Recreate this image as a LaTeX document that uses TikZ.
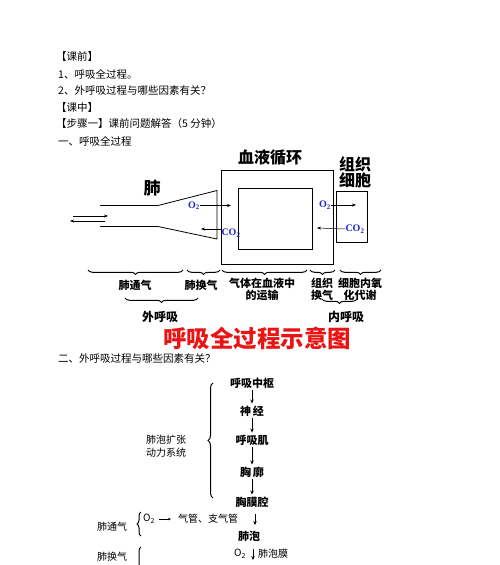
\documentclass[tikz,border=0pt]{standalone}
\usepackage{fontspec}
\setmainfont{Noto Sans CJK SC}
\newfontfamily\lserif{Liberation Serif}
\usetikzlibrary{decorations.pathreplacing,arrows.meta}
\definecolor{gasblue}{RGB}{30,40,200}
\definecolor{titlered}{RGB}{235,20,20}
\begin{document}
\begin{tikzpicture}[x=1pt,y=-1pt,
  body/.style={anchor=west,inner sep=0pt,font=\fontsize{10.5}{12}\selectfont},
  big/.style={inner sep=0pt,font=\fontsize{16}{18}\selectfont\bfseries},
  lbl/.style={inner sep=0pt,align=center,font=\fontsize{11}{11.5}\selectfont\bfseries},
  gas/.style={inner sep=0pt,text=gasblue,font=\lserif\bfseries\fontsize{10}{11}\selectfont},
  arr/.style={-{Stealth[length=4pt,width=3pt]},line width=0.5pt},
  brc/.style={decorate,decoration={brace,amplitude=4.5pt},line width=1pt},
  kai/.style={inner sep=0pt,font=\fontsize{11}{12}\selectfont\bfseries},
  kais/.style={inner sep=0pt,align=center,font=\fontsize{10}{13}\selectfont},
  darr/.style={-{Stealth[length=4pt,width=3.5pt]},line width=0.8pt,shorten >=2pt,shorten <=2pt}
]
\useasboundingbox (0,0) rectangle (500,565);
\fill[white] (0,0) rectangle (500,565);

% header text
\node[body] (t1) at (56,57) {【课前】};
\node[body] (t2) at (58,74) {1、呼吸全过程。};
\node[body] (t3) at (58,91) {2、外呼吸过程与哪些因素有关？};
\node[body] (t4) at (56,108) {【课中】};
\node[body] (t5) at (56,124) {【步骤一】课前问题解答（5 分钟）};
\node[body] (t6) at (58,141) {一、呼吸全过程};

% top diagram labels
\node[big] (xy) at (270,158) {血液循环};
\node[big,align=center,font=\fontsize{16}{16}\selectfont\bfseries] (zz) at (355,172) {组织\\细胞};
\node[big,font=\fontsize{17}{18}\selectfont\bfseries] (fei) at (152,188) {肺};

% lung
\draw[line width=0.8pt] (100,205.5) -- (158,205.5) -- (217,190.5) -- (217,239) -- (158,226.5) -- (100,226.5);
% airflow arrows
\coordinate (a1s) at (73,216);
\coordinate (a1e) at (108,216);
\coordinate (a2s) at (105,221);
\coordinate (a2e) at (70,221);
\draw[arr] (a1s) -- (a1e);
\draw[arr] (a2s) -- (a2e);

% blood boxes
\node[draw,line width=1.3pt,minimum width=112pt,minimum height=94pt,anchor=north west,inner sep=0pt] (outer) at (221,170) {};
\node[draw,line width=1.3pt,minimum width=74pt,minimum height=61pt,anchor=north west,inner sep=0pt] (inner) at (238,188) {};
\node[draw,line width=1.3pt,minimum width=31pt,minimum height=51pt,anchor=north west,inner sep=0pt] (cell) at (336,191) {};

% gases
\node[gas] (o2a) at (194,205.5) {O\textsubscript{2}};
\coordinate (o2ae) at (231,205.5);
\draw[arr] (o2a.east) -- (o2ae);
\node[gas] (co2a) at (231,233) {CO\textsubscript{2}};
\coordinate (co2as) at (222,229);
\coordinate (co2ae) at (201,229);
\draw[arr] (co2as) -- (co2ae);
\node[gas] (o2b) at (325,205) {O\textsubscript{2}};
\coordinate (o2be) at (356,205);
\draw[arr] (o2b.east) -- (o2be);
\node[gas] (co2b) at (355,229) {CO\textsubscript{2}};
\coordinate (co2be) at (317,228);
\draw[arr] (co2b.west) -- (co2be);

% braces level 1
\draw[brc] (183,270) -- (88,270);
\draw[brc] (220,270) -- (187,270);
\draw[brc] (307,270) -- (222,270);
\draw[brc] (335,270) -- (310,270);
\draw[brc] (381,270) -- (340,270);
\node[lbl] (b1) at (135,285) {肺通气};
\node[lbl] (b2) at (201,285) {肺换气};
\node[lbl] (b3) at (262,289.5) {气体在血液中\\的运输};
\node[lbl] (b4) at (322,289.5) {组织\\换气};
\node[lbl] (b5) at (360,289.5) {细胞内氧\\化代谢};
% braces level 2
\draw[brc] (198,298) -- (125,298);
\draw[brc] (357,299) -- (322,299);
\node[lbl,font=\fontsize{12}{13}\selectfont\bfseries] (wh) at (160,317) {外呼吸};
\node[lbl,font=\fontsize{12}{13}\selectfont\bfseries] (nh) at (346,317) {内呼吸};

% title
\node[inner sep=0pt,text=titlered,font=\fontsize{23.5}{25}\selectfont\bfseries] (title) at (257,338) {呼吸全过程示意图};

\node[body] (t7) at (58,359) {二、外呼吸过程与哪些因素有关？};

% lower flow
\node[kai] (c1) at (252,383) {呼吸中枢};
\node[kai] (c2) at (252,411) {神\,经};
\node[kai] (c3) at (252,440) {呼吸肌};
\node[kai] (c4) at (252,472) {胸\,廓};
\node[kai] (c5) at (252,502) {胸膜腔};
\draw[darr] (c1) -- (c2);
\draw[darr] (c2) -- (c3);
\draw[darr] (c3) -- (c4);
\draw[darr] (c4) -- (c5);
\draw[brc,line width=1pt,decoration={brace,amplitude=5pt}] (213,498) -- (213,383);
\node[kais] (dl) at (166,446.5) {肺泡扩张\\动力系统};

\node[kais] (fv) at (112,527) {肺通气};
\draw[brc,decoration={brace,amplitude=4pt}] (141,536) -- (141,512);
\node[inner sep=0pt,anchor=west,font=\fontsize{10}{12}\selectfont] (o2c) at (143,519) {O\textsubscript{2}};
\coordinate (o2cs) at (159,519);
\coordinate (o2ce) at (171,519);
\draw[-{Stealth[length=3pt,width=2.5pt]},line width=0.6pt] (o2cs) -- (o2ce);
\node[kais,anchor=west] (qg) at (178,519) {气管、支气管};
\node[kai] (fp) at (249,536) {肺泡};
\coordinate (q1) at (255,514);
\coordinate (q2) at (255,525);
\draw[-{Stealth[length=4pt,width=3.5pt]},line width=0.8pt] (q1) -- (q2);

\node[kais] (fh) at (112,557) {肺换气};
\draw[brc,decoration={brace,amplitude=4pt}] (141,600) -- (141,547);
\node[inner sep=0pt,font=\fontsize{10}{12}\selectfont] (o2d) at (240,554) {O\textsubscript{2}};
\coordinate (q3) at (253,549);
\coordinate (q4) at (253,560);
\draw[-{Stealth[length=4pt,width=3.5pt]},line width=0.8pt] (q3) -- (q4);
\node[kais,anchor=west] (fpm) at (258,554) {肺泡膜};
\end{tikzpicture}
\end{document}
